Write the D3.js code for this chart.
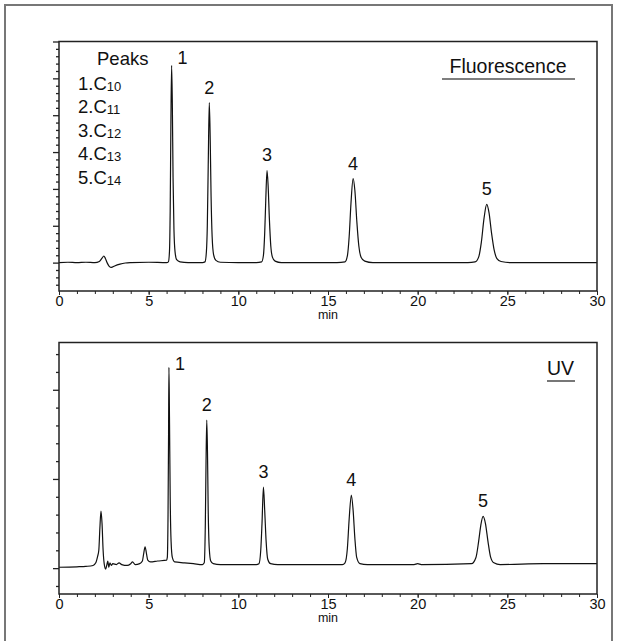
<!DOCTYPE html>
<html><head><meta charset="utf-8">
<script src="https://cdn.jsdelivr.net/npm/d3@7"></script>
<style>html,body{margin:0;padding:0;background:#fff;}svg{display:block;font-family:"Liberation Sans",Arial,sans-serif;}</style>
</head><body>
<script>
// ---- data ----
const timeTicks = [0, 5, 10, 15, 20, 25, 30];
const peakLabels = ["1", "2", "3", "4", "5"];
const legendNames = ["1.C", "2.C", "3.C", "4.C", "5.C"];
const legendSubs = ["10", "11", "12", "13", "14"];
const panelTitles = ["Fluorescence", "UV"];

const fluorPeakTimes = [6.28, 8.38, 11.6, 16.4, 23.85];
const fluorPeakHeights = [5.35, 4.34, 2.5, 2.28, 1.58];
const uvPeakTimes = [6.13, 8.24, 11.4, 16.3, 23.65];
const uvPeakHeights = [2.25, 1.66, 0.91, 0.82, 0.58];

const fluorTrace = [
  [0,0],[0.5,0.01],[1,0],[1.5,0.01],[2,0],[2.25,0.03],[2.4,0.12],[2.5,0.18],[2.58,0.12],[2.68,0.0],[2.8,-0.1],[2.92,-0.13],[3.1,-0.09],[3.4,-0.04],[3.7,-0.01],[4,0],[5,0.01],[6,0],
  [6.1,0.02],[6.16,0.3],[6.2,1.4],[6.24,3.8],[6.28,5.35],[6.32,4.3],[6.36,2.3],[6.41,0.9],[6.47,0.3],[6.56,0.08],[6.75,0.02],[7.2,0],[8,0],
  [8.14,0.02],[8.22,0.3],[8.27,1.0],[8.32,2.6],[8.38,4.34],[8.43,3.4],[8.48,1.8],[8.54,0.7],[8.62,0.22],[8.75,0.06],[9.0,0.01],[10,0],[11,0],
  [11.3,0.02],[11.4,0.2],[11.47,0.8],[11.53,1.7],[11.6,2.5],[11.66,2.1],[11.73,1.2],[11.81,0.45],[11.9,0.15],[12.05,0.04],[12.4,0],[14,0],[15.5,0],
  [15.95,0.02],[16.08,0.18],[16.18,0.7],[16.28,1.6],[16.4,2.28],[16.5,1.95],[16.61,1.1],[16.72,0.45],[16.85,0.14],[17.05,0.04],[17.5,0],[20,0],[22.8,0],
  [23.2,0.02],[23.4,0.15],[23.55,0.55],[23.7,1.2],[23.85,1.58],[23.98,1.35],[24.12,0.8],[24.27,0.33],[24.42,0.11],[24.65,0.03],[25.2,0],[27,0],[30,0]
];

const uvTrace = [
  [0,0.01],[1,0.015],[1.5,0.02],[1.9,0.03],[2.05,0.06],[2.15,0.13],[2.22,0.2],[2.28,0.45],[2.34,0.64],[2.4,0.5],[2.46,0.2],[2.52,0.05],[2.6,-0.01],[2.66,0.03],[2.72,0.08],[2.78,0.01],[2.84,0.06],[2.92,0.03],[3.0,0.05],[3.2,0.04],[3.35,0.06],[3.5,0.04],[3.8,0.03],[4.0,0.05],[4.1,0.07],[4.25,0.04],[4.5,0.05],[4.65,0.08],[4.72,0.16],[4.8,0.24],[4.88,0.16],[4.95,0.09],[5.1,0.07],[5.5,0.08],[6.0,0.09],
  [6.04,0.12],[6.08,0.6],[6.11,1.5],[6.13,2.25],[6.16,1.7],[6.2,0.8],[6.25,0.3],[6.32,0.12],[6.45,0.07],[7,0.06],[7.5,0.05],[8.0,0.04],
  [8.1,0.06],[8.16,0.5],[8.2,1.2],[8.24,1.66],[8.28,1.3],[8.32,0.65],[8.38,0.22],[8.46,0.08],[8.6,0.05],[9,0.04],[10,0.04],[11,0.04],
  [11.15,0.05],[11.25,0.2],[11.32,0.5],[11.4,0.91],[11.47,0.65],[11.55,0.3],[11.64,0.1],[11.8,0.05],[12.2,0.04],[14,0.04],[15.8,0.04],
  [15.95,0.06],[16.08,0.22],[16.18,0.55],[16.3,0.82],[16.4,0.65],[16.5,0.33],[16.6,0.12],[16.78,0.05],[17.2,0.04],[19.8,0.04],[20,0.05],[20.2,0.04],[23.0,0.05],
  [23.25,0.12],[23.4,0.3],[23.52,0.48],[23.65,0.58],[23.78,0.5],[23.92,0.3],[24.06,0.13],[24.25,0.06],[24.6,0.04],[27,0.05],[30,0.05]
];

// ---- layout ----
const W = 618, H = 641;
const svg = d3.select("body").append("svg").attr("width", W).attr("height", H);

svg.append("rect").attr("x", 5).attr("y", 5).attr("width", 607).attr("height", 660)
  .attr("fill", "none").attr("stroke", "#777").attr("stroke-width", 2);

const panels = [
  {trace: fluorTrace, times: fluorPeakTimes, heights: fluorPeakHeights, yDomain: [-0.77, 6], top: 41.5, bottom: 291,
   title: panelTitles[0], titleY: 73, titleX: 508, anchor: "middle", lineX0: 442},
  {trace: uvTrace, times: uvPeakTimes, heights: uvPeakHeights, yDomain: [-0.29, 2.53], top: 342.5, bottom: 594,
   title: panelTitles[1], titleY: 375, titleX: 574, anchor: "end", lineX0: 547}
];
const left = 59, right = 597;

panels.forEach((p, pi) => {
  const x = d3.scaleLinear().domain([0, 30]).range([left, right]);
  const y = d3.scaleLinear().domain(p.yDomain).range([p.bottom, p.top]);
  const g = svg.append("g");

  // trace
  const line = d3.line().x(d => x(d[0])).y(d => y(d[1])).curve(d3.curveMonotoneX);
  g.append("path").datum(p.trace).attr("d", line).attr("fill", "none")
    .attr("stroke", "#111").attr("stroke-width", 1.2).attr("stroke-linejoin", "round");

  // frame
  g.append("rect").attr("x", left).attr("y", p.top).attr("width", right - left).attr("height", p.bottom - p.top)
    .attr("fill", "none").attr("stroke", "#222").attr("stroke-width", 1.5);

  // x axis minor & major ticks
  const minorX = d3.range(0, 31, 1);
  g.append("g").attr("transform", `translate(0,${p.bottom})`)
    .call(d3.axisBottom(x).tickValues(minorX).tickSize(3).tickFormat(""))
    .call(a => a.select(".domain").remove())
    .call(a => a.selectAll("line").attr("stroke", "#222"));
  const xa = g.append("g").attr("transform", `translate(0,${p.bottom})`)
    .call(d3.axisBottom(x).tickValues(timeTicks).tickSize(4).tickPadding(1).tickFormat(d3.format("d")));
  xa.select(".domain").remove();
  xa.selectAll("line").attr("stroke", "#222");
  xa.selectAll("text").attr("font-size", 14.5).attr("fill", "#111").attr("font-family", "Liberation Sans, Arial, sans-serif");
  g.append("text").attr("x", (left + right) / 2).attr("y", p.bottom + 28).attr("text-anchor", "middle")
    .attr("font-size", 12.5).attr("fill", "#111").text("min");

  // y axis ticks (no labels)
  const step = 0.2;
  const lo = Math.ceil(p.yDomain[0] / step - 1e-6), hi = Math.floor(p.yDomain[1] / step + 1e-6);
  const minorY = d3.range(lo, hi + 1).map(k => +(k * step).toFixed(2)).filter(v => Math.abs(v - Math.round(v)) > 1e-6);
  const majorY = d3.range(Math.ceil(p.yDomain[0]), Math.floor(p.yDomain[1]) + 1);
  g.append("g").attr("transform", `translate(${left},0)`)
    .call(d3.axisLeft(y).tickValues(minorY).tickSize(3).tickFormat(""))
    .call(a => a.select(".domain").remove())
    .call(a => a.selectAll("line").attr("stroke", "#222").attr("stroke-width", 1.3));
  g.append("g").attr("transform", `translate(${left},0)`)
    .call(d3.axisLeft(y).tickValues(majorY).tickSize(6).tickFormat(""))
    .call(a => a.select(".domain").remove())
    .call(a => a.selectAll("line").attr("stroke", "#222").attr("stroke-width", 1.3));

  // peak labels
  p.times.forEach((t, i) => {
    let lx = x(t), ly = y(p.heights[i]) - 9;
    if (i === 0) { lx += 11; ly = y(p.heights[i]) + (pi === 0 ? -1 : 3); }
    g.append("text").attr("x", lx).attr("y", ly).attr("text-anchor", "middle")
      .attr("font-size", 18).attr("fill", "#111").text(peakLabels[i]);
  });

  // title + underline
  g.append("text").attr("x", p.titleX).attr("y", p.titleY).attr("text-anchor", p.anchor)
    .attr("font-size", 19.5).attr("fill", "#111").text(p.title);
  g.append("line").attr("x1", p.lineX0).attr("x2", 575).attr("y1", p.titleY + 6).attr("y2", p.titleY + 6)
    .attr("stroke", "#555").attr("stroke-width", 1.6);
});

// legend (top panel)
const lg = svg.append("g").attr("fill", "#111");
lg.append("text").attr("x", 97).attr("y", 65).attr("font-size", 18.5).text("Peaks");
legendNames.forEach((n, i) => {
  const t = lg.append("text").attr("x", 78).attr("y", 89.5 + i * 23.5).attr("font-size", 18.5);
  t.append("tspan").text(n);
  t.append("tspan").attr("font-size", 13).attr("dy", 1).text(legendSubs[i]);
});
</script>
</body></html>
